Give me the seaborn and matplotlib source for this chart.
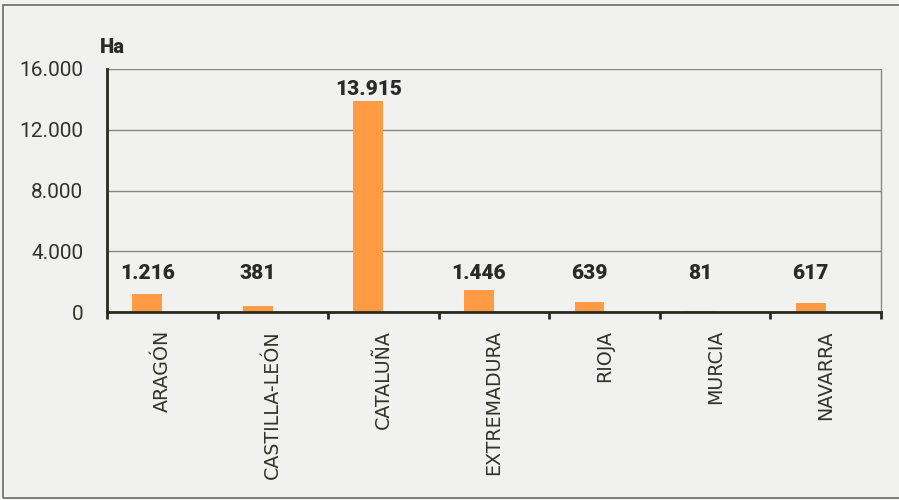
import matplotlib
matplotlib.use("Agg")
import matplotlib.pyplot as plt
import seaborn as sns
import pandas as pd
from matplotlib.ticker import FixedLocator, FuncFormatter
from matplotlib.patches import Rectangle

regions = ["ARAGÓN", "CASTILLA-LEÓN", "CATALUÑA", "EXTREMADURA", "RIOJA", "MURCIA", "NAVARRA"]
hectares = [1216, 381, 13915, 1446, 639, 81, 617]
y_ticks = [0, 4000, 8000, 12000, 16000]
unit_label = "Ha"


def fmt(v):
    return f"{v:,.0f}".replace(",", ".")


sns.set_theme(style="white")
BG = "#f1f1f0"
DARK = "#2a2a20"
fig = plt.figure(figsize=(8.99, 5.0), dpi=100, facecolor=BG)
ax = fig.add_axes([107 / 899, 1 - 312 / 500, (881 - 107) / 899, (312 - 69) / 500])
ax.set_facecolor(BG)

df = pd.DataFrame({"region": regions, "ha": hectares})
sns.barplot(data=df, x="region", y="ha", color="#ff9b45", width=0.27,
            saturation=1, ax=ax, errorbar=None)
for p in ax.patches:
    p.set_x(p.get_x() - 0.136)
    p.set_edgecolor("none")

ax.set_xlim(-0.5, len(regions) - 0.5)
ax.set_ylim(0, 16000)
ax.set_xlabel("")
ax.set_ylabel("")

ax.yaxis.set_major_locator(FixedLocator(y_ticks))
ax.yaxis.set_major_formatter(FuncFormatter(lambda v, _: fmt(v)))
ax.yaxis.grid(True, color="#8a8a78", lw=1.0)
ax.set_axisbelow(True)

for s in ["left", "bottom"]:
    ax.spines[s].set_color(DARK)
    ax.spines[s].set_linewidth(2.0)
ax.spines["top"].set_visible(False)
ax.spines["right"].set_color("#8a8a8a")
ax.spines["right"].set_linewidth(1.0)

ax.tick_params(axis="y", length=5, width=2, color=DARK, direction="out", pad=12,
               labelsize=15, labelcolor="#33332b")
for t in ax.get_yticklabels():
    t.set_fontfamily("Roboto")
    t.set_fontweight("normal")

ax.set_xticks(range(len(regions)))
ax.set_xticks([i - 0.5 for i in range(len(regions) + 1)], minor=True)
ax.tick_params(axis="x", which="major", length=0, pad=13)
ax.tick_params(axis="x", which="minor", length=5, width=2, color=DARK, direction="out", bottom=True)
ax.set_xticklabels(regions, rotation=90, fontsize=13.7, color="#33332b",
                   fontfamily="Liberation Sans Narrow", va="top", ha="center")

for p, v in zip(ax.patches, hectares):
    ax.text(p.get_x() + p.get_width() / 2, max(v + 370, 2200), fmt(v),
            ha="center", va="baseline", fontsize=15, fontweight="black",
            fontfamily="Roboto", color="#2a2a2a")

fig.text(100 / 899, 1 - 53 / 500, unit_label, ha="left", va="baseline",
         fontsize=14.5, fontweight="black", fontfamily="Roboto", color="#2a2a2a")

fig.patches.append(Rectangle((3 / 899, 2 / 500), 1.0, 1 - 7 / 500, transform=fig.transFigure,
                             fill=False, edgecolor="#6a6a6a", lw=1.2, figure=fig))

fig.savefig("out.png", dpi=100, facecolor=BG)
